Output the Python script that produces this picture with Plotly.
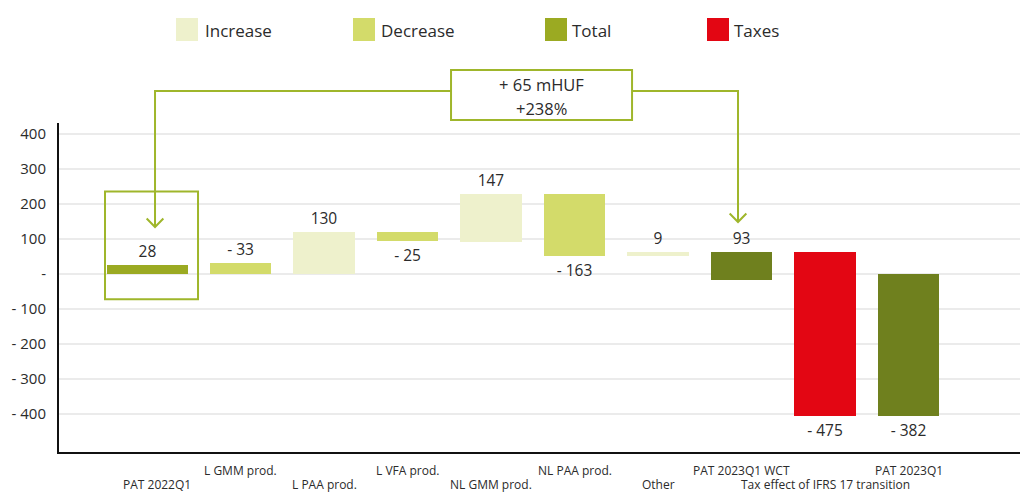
import plotly.graph_objects as go

# ---------------- data ----------------
categories = ["PAT 2022Q1", "L GMM prod.", "L PAA prod.", "L VFA prod.", "NL GMM prod.",
              "NL PAA prod.", "Other", "PAT 2023Q1 WCT",
              "Tax effect of IFRS 17 transition", "PAT 2023Q1"]
value_labels = ["28", "- 33", "130", "- 25", "147", "- 163", "9", "93", "- 475", "- 382"]
# drawn extent of each bar (label sits beyond bar_end)
bar_start = [0, 0, 0, 118, 92, 229, 50, -18, 61, 0]
bar_end = [24, 30, 118, 95, 229, 50, 61, 61, -405, -405]
kinds = ["Total", "Decrease", "Increase", "Decrease", "Increase",
         "Decrease", "Increase", "Total", "Taxes", "Total"]

y_tick_vals = [400, 300, 200, 100, 0, -100, -200, -300, -400]
y_tick_labels = ["400", "300", "200", "100", "-", "- 100", "- 200", "- 300", "- 400"]

legend_items = ["Increase", "Decrease", "Total", "Taxes"]
callout_lines = ["+ 65 mHUF", "+238%"]

# ---------------- styles ----------------
FONT = "Open Sans"
TXT = "#2b2b2b"
GREEN_LINE = "#9FB62B"
kind_colors = {"Increase": "#EEF1CC", "Decrease": "#D3DB6A",
               "Total": "#9BAA22", "Taxes": "#E30613"}
dark_total = "#6F801E"
bar_colors = []
for i, k in enumerate(kinds):
    if k == "Total" and i > 0:
        bar_colors.append(dark_total)
    else:
        bar_colors.append(kind_colors[k])
widths = [0.97] + [0.74] * (len(categories) - 1)
offsets = [-0.60] + [-0.37] * (len(categories) - 1)

x = list(range(len(categories)))
heights = [e - s for s, e in zip(bar_start, bar_end)]

fig = go.Figure()
fig.add_trace(go.Bar(
    x=x, y=heights, base=bar_start, width=widths, offset=offsets,
    marker=dict(color=bar_colors, line=dict(width=0)),
    text=value_labels, textposition="outside", cliponaxis=False,
    constraintext="none",
    textfont=dict(family=FONT, size=15.5, color=TXT),
    showlegend=False, hoverinfo="skip",
))

shapes = []
annotations = []

# page geometry of the plot area (page pixels)
W_PLOT, L_M = 969.0, 59.0
H_PLOT, B_PX = 329.0, 452.0
def px_x(p):
    return (p - L_M) / W_PLOT
def px_y(p):
    return (B_PX - p) / H_PLOT

# staggered category labels
for i, c in enumerate(categories):
    annotations.append(dict(
        x=i, y=px_y(470.5) if i % 2 == 1 else px_y(484), xref="x", yref="paper",
        text=c, showarrow=False, xanchor="center", yanchor="middle",
        font=dict(family=FONT, size=12, color=TXT)))

# manual legend
leg_x_sw = [176, 353, 545, 707]
leg_x_tx = [203, 379, 570, 732]
for name, sx, tx in zip(legend_items, leg_x_sw, leg_x_tx):
    shapes.append(dict(type="rect", xref="paper", yref="paper",
                       x0=px_x(sx), x1=px_x(sx + 22), y0=px_y(41), y1=px_y(18),
                       fillcolor=kind_colors[name], line=dict(width=0)))
    annotations.append(dict(x=px_x(tx), y=px_y(30), xref="paper", yref="paper",
                            text=name, showarrow=False, xanchor="left", yanchor="middle",
                            font=dict(family=FONT, size=17, color=TXT)))

# callout connector
line_style = dict(color=GREEN_LINE, width=2)
y_top = px_y(91)
lx, rx = -0.024, 6.958
box_l, box_r = 3.521, 5.689
tip_l, tip_r = px_y(227), px_y(222)
chev_h = 8.5 / H_PLOT
chev_w = 0.1
shapes.append(dict(type="path", xref="x", yref="paper", line=line_style,
                   path=f"M {box_l},{y_top} L {lx},{y_top} L {lx},{tip_l}"))
shapes.append(dict(type="path", xref="x", yref="paper", line=line_style,
                   path=f"M {box_r},{y_top} L {rx},{y_top} L {rx},{tip_r}"))
for cx, ty in [(lx, tip_l), (rx, tip_r)]:
    shapes.append(dict(type="path", xref="x", yref="paper", line=line_style,
                       path=f"M {cx - chev_w},{ty + chev_h} L {cx},{ty} L {cx + chev_w},{ty + chev_h}"))
shapes.append(dict(type="rect", xref="x", yref="paper", x0=box_l, x1=box_r,
                   y0=px_y(120), y1=px_y(70), fillcolor="white", line=line_style))
for t, py in zip(callout_lines, [85, 109]):
    annotations.append(dict(x=(box_l + box_r) / 2, y=px_y(py), xref="x", yref="paper",
                            text=t, showarrow=False, xanchor="center", yanchor="middle",
                            font=dict(family=FONT, size=16.5, color=TXT)))

# box around the first bar
shapes.append(dict(type="rect", xref="x", yref="y", x0=-0.623, x1=0.491,
                   y0=-72.6, y1=235, line=line_style, fillcolor="rgba(0,0,0,0)"))

# the page has an 8px body margin, so the figure is laid out 8px up/left
OFF = 8
FIG_W, FIG_H = 1028 - OFF, 492 - OFF
fig.update_layout(
    width=FIG_W, height=FIG_H,
    margin=dict(l=59 - OFF, r=0, t=123 - OFF, b=FIG_H - (452 - OFF)),
    paper_bgcolor="white", plot_bgcolor="white",
    font=dict(family=FONT, color=TXT),
    xaxis=dict(range=[-1.174, 10.431], showgrid=False, zeroline=False,
               showline=True, linecolor="#111", linewidth=2,
               showticklabels=False, ticks="", fixedrange=True),
    yaxis=dict(range=[-508, 430], tickvals=y_tick_vals, ticktext=y_tick_labels,
               showgrid=True, gridcolor="#EBEBEB", gridwidth=1.5, zeroline=False,
               showline=True, linecolor="#111", linewidth=2, ticks="",
               ticklabelstandoff=8,
               tickfont=dict(family=FONT, size=15, color=TXT)),
    shapes=shapes, annotations=annotations,
    bargap=0, showlegend=False,
)

fig.write_html("out.html")
